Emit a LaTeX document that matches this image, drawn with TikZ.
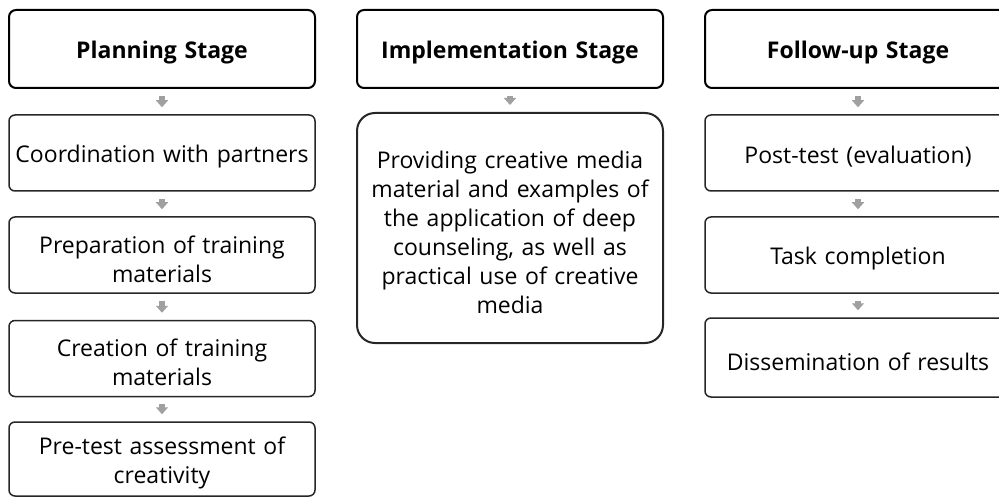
\documentclass[tikz,border=0pt]{standalone}
\usepackage{fontspec}
\setmainfont{Open Sans}
\usetikzlibrary{arrows.meta}
\definecolor{arrowgray}{HTML}{A0A0A0}
\definecolor{boxline}{HTML}{262626}
\tikzset{
  stagebox/.style={draw=black, line width=2pt, rounded corners=7pt, minimum width=306pt,
    minimum height=78pt, inner sep=0pt},
  stepbox/.style={draw=boxline, line width=1.5pt, rounded corners=6pt, minimum width=306pt,
    minimum height=76pt, inner sep=0pt},
  bigbox/.style={stepbox, line width=2pt, rounded corners=18pt, minimum height=230pt},
  % captions sit slightly below the centre of their box
  stagetext/.style={inner sep=0pt, text width=300pt, align=center, yshift=-4pt,
    font=\fontsize{23}{29}\selectfont\bfseries},
  steptext/.style={inner sep=0pt, text width=300pt, align=center, yshift=-4pt,
    font=\fontsize{23}{29}\selectfont},
  flow/.style={draw=arrowgray, line width=6pt, shorten <=7pt, shorten >=7pt,
    -{Triangle[width=12pt,length=7pt]}}
}
\begin{document}
\begin{tikzpicture}[x=1pt,y=-1pt]
\useasboundingbox (0,0) rectangle (999,497);
% column headers
\node[stagebox] (h1) at (162,49) {};
\node[stagetext] (h1t) at (h1.center) {Planning Stage};
\node[stagebox] (h2) at (510,49) {};
\node[stagetext] (h2t) at (h2.center) {Implementation Stage};
\node[stagebox] (h3) at (858,49) {};
\node[stagetext] (h3t) at (h3.center) {Follow-up Stage};
% planning column
\node[stepbox] (p1) at (162,153) {};
\node[steptext] (p1t) at (p1.center) {Coordination with partners};
\node[stepbox] (p2) at (162,255) {};
\node[steptext] (p2t) at (p2.center) {Preparation of training\\materials};
\node[stepbox] (p3) at (162,358.5) {};
\node[steptext] (p3t) at (p3.center) {Creation of training\\materials};
\node[stepbox, minimum height=74pt] (p4) at (162,459) {};
\node[steptext] (p4t) at (p4.center) {Pre-test assessment of\\creativity};
% implementation column
\node[bigbox] (i1) at (510,228) {};
\node[steptext] (i1t) at (i1.center) {Providing creative media\\material and examples of\\the application of deep\\counseling, as well as\\practical use of creative\\media};
% follow-up column
\node[stepbox] (f1) at (858,153) {};
\node[steptext] (f1t) at (f1.center) {Post-test (evaluation)};
\node[stepbox] (f2) at (858,255) {};
\node[steptext] (f2t) at (f2.center) {Task completion};
\node[stepbox, minimum height=79pt] (f3) at (858,357.5) {};
\node[steptext] (f3t) at (f3.center) {Dissemination of results};
% flow arrows
\draw[flow] (h1) -- (p1);
\draw[flow] (p1) -- (p2);
\draw[flow] (p2) -- (p3);
\draw[flow] (p3) -- (p4);
\draw[flow] (h2) -- (i1);
\draw[flow] (h3) -- (f1);
\draw[flow] (f1) -- (f2);
\draw[flow] (f2) -- (f3);
\end{tikzpicture}
\end{document}
